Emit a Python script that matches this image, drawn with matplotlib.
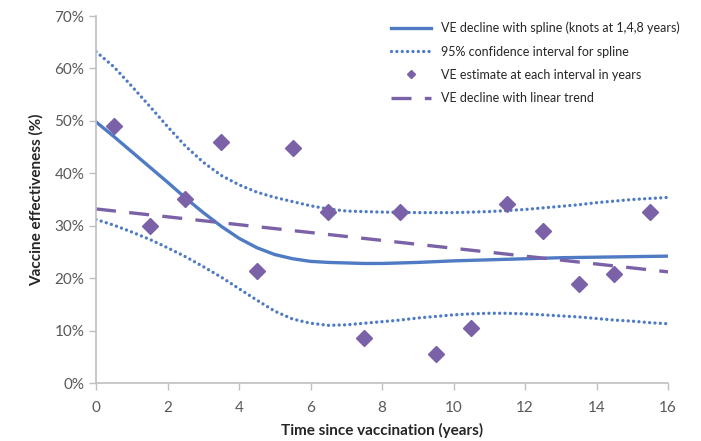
import numpy as np
import matplotlib
matplotlib.use('Agg')
import matplotlib.pyplot as plt
from matplotlib.ticker import FuncFormatter

plt.rcParams['font.family'] = ['Lato', 'DejaVu Sans']

# curve grid (years since vaccination), every half year
years = np.arange(0, 16.5, 0.5)
spline_ve = [49.8, 47.0, 44.1, 41.2, 38.3, 35.3, 32.5, 29.9, 27.6, 25.8, 24.5,
             23.7, 23.2, 23.0, 22.9, 22.8, 22.8, 22.9, 23.0, 23.15, 23.3, 23.4,
             23.5, 23.6, 23.7, 23.8, 23.9, 23.95, 24.0, 24.05, 24.1, 24.15, 24.2]
ci_upper = [63.2, 60.3, 56.6, 52.8, 48.9, 45.2, 42.1, 39.6, 37.8, 36.4, 35.4,
            34.6, 33.8, 33.2, 32.8, 32.7, 32.6, 32.55, 32.5, 32.5, 32.5, 32.6,
            32.7, 32.9, 33.1, 33.4, 33.7, 34.0, 34.4, 34.7, 35.0, 35.2, 35.4]
ci_lower = [31.2, 30.1, 28.8, 27.4, 25.8, 24.1, 22.2, 20.2, 18.0, 15.8, 13.7,
            12.2, 11.4, 11.0, 11.1, 11.4, 11.7, 12.0, 12.4, 12.7, 13.0, 13.2,
            13.3, 13.3, 13.2, 13.0, 12.8, 12.6, 12.3, 12.0, 11.8, 11.5, 11.3]

# point estimates at each interval midpoint
interval_mid = [0.5, 1.5, 2.5, 3.5, 4.5, 5.5, 6.5, 7.5, 8.5, 9.5, 10.5, 11.5,
                12.5, 13.5, 14.5, 15.5]
ve_estimate = [49.0, 30.0, 35.1, 46.0, 21.4, 44.8, 32.6, 8.6, 32.6, 5.5, 10.5,
               34.2, 29.0, 18.9, 20.8, 32.6]

# linear trend endpoints
linear_x = [0, 16]
linear_ve = [33.2, 21.2]

blue = '#4F7BC4'
purple = '#7B62A8'
grey = '#BFBFBF'
text_col = '#595959'

fig = plt.figure(figsize=(7.01, 4.41), dpi=100)
ax = fig.add_axes([0.137, 0.1315, 0.816, 0.8322])

ax.plot(years, spline_ve, color=blue, lw=2.4,
        label='VE decline with spline (knots at 1,4,8 years)')
ax.plot(years, ci_upper, color=blue, lw=2.4, ls=(0, (0.01, 1.6)),
        dash_capstyle='round', label='95% confidence interval for spline')
ax.plot(years, ci_lower, color=blue, lw=2.4, ls=(0, (0.01, 1.6)),
        dash_capstyle='round')
ax.plot(interval_mid, ve_estimate, ls='none', marker='D', ms=8.5,
        color=purple, mec=purple, label='VE estimate at each interval in years')
ax.plot(linear_x, linear_ve, color=purple, lw=2.4, ls=(0, (6, 4)),
        label='VE decline with linear trend')

ax.set_xlim(0, 16)
ax.set_ylim(0, 70)
ax.set_xticks(range(0, 17, 2))
ax.set_yticks(range(0, 71, 10))
ax.yaxis.set_major_formatter(FuncFormatter(lambda v, p: '%d%%' % v))

for s in ['top', 'right']:
    ax.spines[s].set_visible(False)
for s in ['left', 'bottom']:
    ax.spines[s].set_color(grey)
    ax.spines[s].set_linewidth(1.2)
ax.tick_params(colors=grey, labelcolor=text_col, labelsize=11, length=5,
               width=1, direction='out')
ax.tick_params(axis='x', pad=8)

ax.set_xlabel('Time since vaccination (years)', fontsize=11, fontweight='bold',
              color='#262626', labelpad=6)
ax.set_ylabel('Vaccine effectiveness (%)', fontsize=11, fontweight='bold',
              color='#262626', labelpad=8)

leg = ax.legend(loc='upper right', bbox_to_anchor=(1.04, 1.015), frameon=False,
                fontsize=9, handlelength=3.2, labelspacing=0.9,
                markerscale=0.45)
for t in leg.get_texts():
    t.set_color('#262626')

fig.savefig('out.png', dpi=100)
